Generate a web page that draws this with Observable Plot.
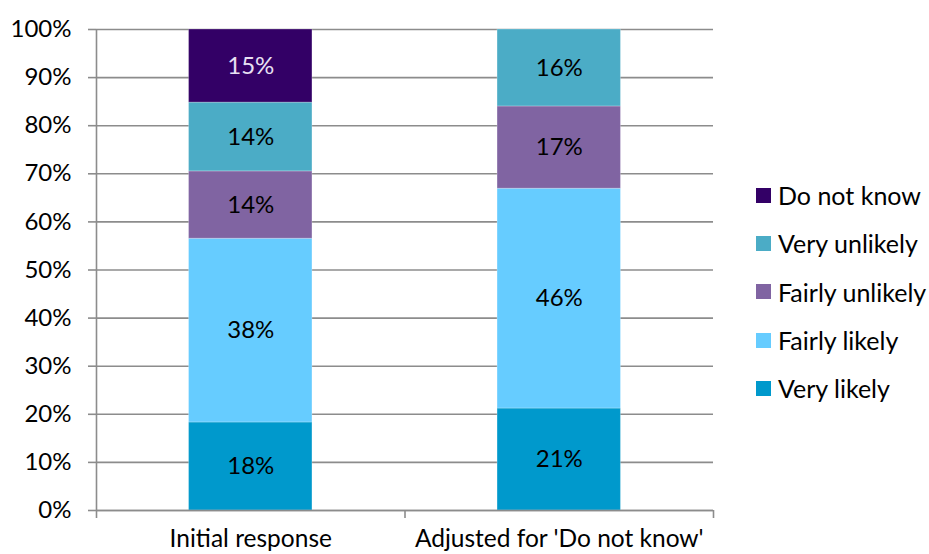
<!DOCTYPE html>
<html>
<head>
<meta charset="utf-8">
<script src="https://cdn.jsdelivr.net/npm/d3@7"></script>
<script src="https://cdn.jsdelivr.net/npm/@observablehq/plot@0.6"></script>
<style>
  html, body { margin: 0; padding: 0; background: #fff; }
  #wrap { position: relative; width: 929px; height: 554px; font-family: Lato, "Open Sans", sans-serif; }
  #legend { position: absolute; left: 756px; top: 171px; }
  .li { display: flex; align-items: center; height: 48.3px; font-size: 25px; color: #000; }
  .sw { width: 15px; height: 15px; margin-right: 7px; }
</style>
</head>
<body>
<div id="wrap"><div id="legend"></div></div>
<script>
const categories = ["Initial response", "Adjusted for 'Do not know'"];
const series = ["Very likely", "Fairly likely", "Fairly unlikely", "Very unlikely", "Do not know"];
const colors = ["#0099cc", "#66ccff", "#8064a2", "#4bacc6", "#330066"];
const initialValues = [18.3, 38.2, 14.0, 14.3, 15.2];
const adjustedValues = [21.2, 45.7, 17.1, 16.0, 0];
const yTicks = [0, 10, 20, 30, 40, 50, 60, 70, 80, 90, 100];

const valuesByCat = [initialValues, adjustedValues];
const data = [];
categories.forEach((c, i) => series.forEach((s, j) => {
  data.push({cat: c, i, series: s, value: valuesByCat[i][j]});
}));

const font = 'Lato, "Open Sans", sans-serif';
const labelOf = d => d.value > 0 ? Math.round(d.value) + "%" : null;

const chart = Plot.plot({
  width: 929,
  height: 554,
  marginLeft: 96,
  marginRight: 216,
  marginTop: 29,
  marginBottom: 44,
  style: {fontFamily: font, fontSize: "24px", background: "#fff", color: "#000"},
  x: {domain: [0, 2], axis: null},
  y: {domain: [0, 100], axis: null},
  color: {domain: series, range: colors},
  marks: [
    Plot.ruleY(yTicks, {x1: 0, x2: 2, stroke: "#8c8c8c", strokeWidth: 1.6}),
    Plot.axisY({ticks: yTicks, tickFormat: d => d + "%", tickSize: 8, tickPadding: 17, stroke: "#8c8c8c", strokeWidth: 1.6, fontSize: 24, anchor: "left", label: null}),
    Plot.rectY(data, Plot.stackY({x1: d => d.i + 0.3, x2: d => d.i + 0.7, y: "value", fill: "series", stroke: "#ffffff", strokeOpacity: 0.25, strokeWidth: 1})),
    Plot.text(data, Plot.stackY({x: d => d.i + 0.5, y: "value", text: d => d.series === "Do not know" ? null : labelOf(d), fill: "#000", fontSize: 24})),
    Plot.text(data, Plot.stackY({x: d => d.i + 0.5, y: "value", text: d => d.series === "Do not know" ? labelOf(d) : null, fill: "#e8e0f4", fontSize: 24})),
    Plot.ruleX([0], {stroke: "#8c8c8c", strokeWidth: 1.6}),
    Plot.ruleY([0], {stroke: "#8c8c8c", strokeWidth: 1.6}),
    Plot.axisX({ticks: [0, 1, 2], tickFormat: () => "", tickSize: 8, stroke: "#8c8c8c", strokeWidth: 1.6, anchor: "bottom", label: null}),
    Plot.axisX({ticks: [0.5, 1.5], tickFormat: d => categories[Math.floor(d)], tickSize: 0, tickPadding: 19, fontSize: 24.5, anchor: "bottom", label: null})
  ]
});
document.getElementById("wrap").prepend(chart);
chart.style.position = "absolute";
chart.style.left = "0px";
chart.style.top = "0px";

const legend = document.getElementById("legend");
[...series].reverse().forEach(s => {
  const row = document.createElement("div");
  row.className = "li";
  const sw = document.createElement("div");
  sw.className = "sw";
  sw.style.background = colors[series.indexOf(s)];
  const t = document.createElement("span");
  t.textContent = s;
  row.append(sw, t);
  legend.append(row);
});
</script>
</body>
</html>
